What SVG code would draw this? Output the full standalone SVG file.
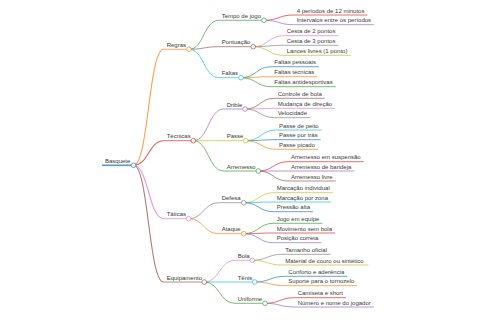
<svg xmlns="http://www.w3.org/2000/svg" width="480" height="320" viewBox="0 0 480 320">
<style>
text{font-family:"Liberation Sans",Arial,sans-serif;font-size:6px;fill:#3a3a3a}
path,line{fill:none;stroke-width:0.9;stroke-opacity:0.75}
circle{fill:#fff;stroke-width:0.8;stroke-opacity:0.85}
.c0{stroke:#1f77b4}.c1{stroke:#ff7f0e}.c2{stroke:#2ca02c}.c3{stroke:#d62728}.c4{stroke:#9467bd}
.c5{stroke:#8c564b}.c6{stroke:#e377c2}.c7{stroke:#7f7f7f}.c8{stroke:#bcbd22}.c9{stroke:#17becf}
.d1{stroke-width:1.1}
</style>
<rect width="480" height="320" fill="#fff"/>
<g id="connectors">
<path class="c1 d1" d="M133.5,165.3C148.6,165.3 148.6,49.3 163.7,49.3"/>
<path class="c3 d1" d="M133.5,165.3C148.6,165.3 148.6,140.7 163.7,140.7"/>
<path class="c6 d1" d="M133.5,165.3C148.6,165.3 148.6,218.7 163.7,218.7"/>
<path class="c5 d1" d="M133.5,165.3C148.6,165.3 148.6,282 163.7,282"/>
<path class="c2" d="M189,49.3C203.9,49.3 203.9,20.3 218.7,20.3"/>
<path class="c5" d="M189,49.3C203.9,49.3 203.9,46.7 218.7,46.7"/>
<path class="c9" d="M189,49.3C203.9,49.3 203.9,77.7 218.7,77.7"/>
<path class="c4" d="M193.3,140.7C208.5,140.7 208.5,109 223.7,109"/>
<path class="c8" d="M193.3,140.7C208.5,140.7 208.5,140.7 223.7,140.7"/>
<path class="c2" d="M193.3,140.7C208.5,140.7 208.5,171 223.7,171"/>
<path class="c7" d="M188.7,218.7C203.7,218.7 203.7,202.7 218.7,202.7"/>
<path class="c1" d="M188.7,218.7C203.7,218.7 203.7,233.7 218.7,233.7"/>
<path class="c6" d="M204.3,282C219.5,282 219.5,260.3 234.7,260.3"/>
<path class="c9" d="M204.3,282C219.5,282 219.5,282 234.7,282"/>
<path class="c2" d="M204.3,282C219.5,282 219.5,303.3 234.7,303.3"/>
<path class="c3" d="M264,20.3C278.9,20.3 278.9,15 293.7,15"/>
<path class="c4" d="M264,20.3C278.9,20.3 278.9,24.7 293.7,24.7"/>
<path class="c6" d="M253.3,46.7C268.5,46.7 268.5,35.7 283.7,35.7"/>
<path class="c7" d="M253.3,46.7C268.5,46.7 268.5,45.3 283.7,45.3"/>
<path class="c8" d="M253.3,46.7C268.5,46.7 268.5,55.3 283.7,55.3"/>
<path class="c0" d="M241,77.7C256.2,77.7 256.2,66.7 271.3,66.7"/>
<path class="c1" d="M241,77.7C256.2,77.7 256.2,76.7 271.3,76.7"/>
<path class="c2" d="M241,77.7C256.2,77.7 256.2,86.7 271.3,86.7"/>
<path class="c5" d="M245,109C259.9,109 259.9,98.3 274.7,98.3"/>
<path class="c6" d="M245,109C259.9,109 259.9,108.3 274.7,108.3"/>
<path class="c7" d="M245,109C259.9,109 259.9,117.7 274.7,117.7"/>
<path class="c9" d="M245.7,140.7C260.9,140.7 260.9,130 276,130"/>
<path class="c0" d="M245.7,140.7C260.9,140.7 260.9,139.7 276,139.7"/>
<path class="c1" d="M245.7,140.7C260.9,140.7 260.9,149.3 276,149.3"/>
<path class="c3" d="M258.3,171C273.2,171 273.2,161.7 288,161.7"/>
<path class="c4" d="M258.3,171C273.2,171 273.2,171 288,171"/>
<path class="c5" d="M258.3,171C273.2,171 273.2,181 288,181"/>
<path class="c8" d="M243.7,202.7C258.7,202.7 258.7,192.7 273.7,192.7"/>
<path class="c9" d="M243.7,202.7C258.7,202.7 258.7,202 273.7,202"/>
<path class="c0" d="M243.7,202.7C258.7,202.7 258.7,211.7 273.7,211.7"/>
<path class="c2" d="M243.7,233.7C258.7,233.7 258.7,223.3 273.7,223.3"/>
<path class="c3" d="M243.7,233.7C258.7,233.7 258.7,233 273.7,233"/>
<path class="c4" d="M243.7,233.7C258.7,233.7 258.7,242.7 273.7,242.7"/>
<path class="c7" d="M252.3,260.3C267.3,260.3 267.3,254.3 282.3,254.3"/>
<path class="c8" d="M252.3,260.3C267.3,260.3 267.3,265 282.3,265"/>
<path class="c0" d="M254.7,282C270,282 270,276.3 285.3,276.3"/>
<path class="c1" d="M254.7,282C270,282 270,285.7 285.3,285.7"/>
<path class="c3" d="M265,303.3C279.9,303.3 279.9,297.7 294.7,297.7"/>
<path class="c4" d="M265,303.3C279.9,303.3 279.9,307 294.7,307"/>
</g>
<g id="n-basquete"><line class="c0" x1="102" y1="165.3" x2="131.2" y2="165.3" style="stroke-width:1.6"/><circle class="c0" cx="133.5" cy="165.3" r="2.3"/><text x="105" y="163">Basquete</text></g>
<g id="n-regras"><line class="c1" x1="163.7" y1="49.3" x2="186.7" y2="49.3"/><circle class="c1" cx="189" cy="49.3" r="2.3"/><text x="166.7" y="47">Regras</text></g>
<g id="n-tempo"><line class="c2" x1="218.7" y1="20.3" x2="261.7" y2="20.3"/><circle class="c2" cx="264" cy="20.3" r="2.3"/><text x="221.7" y="18">Tempo de jogo</text></g>
<g id="n-periodos"><line class="c3" x1="293.7" y1="15" x2="367.4" y2="15"/><text x="296.7" y="12.7">4 períodos de 12 minutos</text></g>
<g id="n-intervalos"><line class="c4" x1="293.7" y1="24.7" x2="374.1" y2="24.7"/><text x="296.7" y="22.4">Intervalos entre os períodos</text></g>
<g id="n-pontuacao"><line class="c5" x1="218.7" y1="46.7" x2="251" y2="46.7"/><circle class="c5" cx="253.3" cy="46.7" r="2.3"/><text x="221.7" y="44.4">Pontuação</text></g>
<g id="n-cesta2"><line class="c6" x1="283.7" y1="35.7" x2="338.4" y2="35.7"/><text x="286.7" y="33.4">Cesta de 2 pontos</text></g>
<g id="n-cesta3"><line class="c7" x1="283.7" y1="45.3" x2="338.4" y2="45.3"/><text x="286.7" y="43">Cesta de 3 pontos</text></g>
<g id="n-lances"><line class="c8" x1="283.7" y1="55.3" x2="350.4" y2="55.3"/><text x="286.7" y="53">Lances livres (1 ponto)</text></g>
<g id="n-faltas"><line class="c9" x1="218.7" y1="77.7" x2="238.7" y2="77.7"/><circle class="c9" cx="241" cy="77.7" r="2.3"/><text x="221.7" y="75.4">Faltas</text></g>
<g id="n-fpessoais"><line class="c0" x1="271.3" y1="66.7" x2="319" y2="66.7"/><text x="274.3" y="64.4">Faltas pessoais</text></g>
<g id="n-ftecnicas"><line class="c1" x1="271.3" y1="76.7" x2="317.3" y2="76.7"/><text x="274.3" y="74.4">Faltas técnicas</text></g>
<g id="n-fantidesportivas"><line class="c2" x1="271.3" y1="86.7" x2="335.7" y2="86.7"/><text x="274.3" y="84.4">Faltas antidesportivas</text></g>
<g id="n-tecnicas"><line class="c3" x1="163.7" y1="140.7" x2="191" y2="140.7"/><circle class="c3" cx="193.3" cy="140.7" r="2.3"/><text x="166.7" y="138.4">Técnicas</text></g>
<g id="n-drible"><line class="c4" x1="223.7" y1="109" x2="242.7" y2="109"/><circle class="c4" cx="245" cy="109" r="2.3"/><text x="226.7" y="106.7">Drible</text></g>
<g id="n-controle"><line class="c5" x1="274.7" y1="98.3" x2="324.7" y2="98.3"/><text x="277.7" y="96">Controle de bola</text></g>
<g id="n-mudanca"><line class="c6" x1="274.7" y1="108.3" x2="335.1" y2="108.3"/><text x="277.7" y="106">Mudança de direção</text></g>
<g id="n-velocidade"><line class="c7" x1="274.7" y1="117.7" x2="310.4" y2="117.7"/><text x="277.7" y="115.4">Velocidade</text></g>
<g id="n-passe"><line class="c8" x1="223.7" y1="140.7" x2="243.4" y2="140.7"/><circle class="c8" cx="245.7" cy="140.7" r="2.3"/><text x="226.7" y="138.4">Passe</text></g>
<g id="n-peito"><line class="c9" x1="276" y1="130" x2="321.7" y2="130"/><text x="279" y="127.7">Passe de peito</text></g>
<g id="n-tras"><line class="c0" x1="276" y1="139.7" x2="320.7" y2="139.7"/><text x="279" y="137.4">Passe por trás</text></g>
<g id="n-picado"><line class="c1" x1="276" y1="149.3" x2="318" y2="149.3"/><text x="279" y="147">Passe picado</text></g>
<g id="n-arremesso"><line class="c2" x1="223.7" y1="171" x2="256" y2="171"/><circle class="c2" cx="258.3" cy="171" r="2.3"/><text x="226.7" y="168.7">Arremesso</text></g>
<g id="n-suspensao"><line class="c3" x1="288" y1="161.7" x2="363.7" y2="161.7"/><text x="291" y="159.4">Arremesso em suspensão</text></g>
<g id="n-bandeja"><line class="c4" x1="288" y1="171" x2="354.4" y2="171"/><text x="291" y="168.7">Arremesso de bandeja</text></g>
<g id="n-livre"><line class="c5" x1="288" y1="181" x2="335.7" y2="181"/><text x="291" y="178.7">Arremesso livre</text></g>
<g id="n-taticas"><line class="c6" x1="163.7" y1="218.7" x2="186.4" y2="218.7"/><circle class="c6" cx="188.7" cy="218.7" r="2.3"/><text x="166.7" y="216.4">Táticas</text></g>
<g id="n-defesa"><line class="c7" x1="218.7" y1="202.7" x2="241.4" y2="202.7"/><circle class="c7" cx="243.7" cy="202.7" r="2.3"/><text x="221.7" y="200.4">Defesa</text></g>
<g id="n-individual"><line class="c8" x1="273.7" y1="192.7" x2="332.7" y2="192.7"/><text x="276.7" y="190.4">Marcação individual</text></g>
<g id="n-zona"><line class="c9" x1="273.7" y1="202" x2="331.1" y2="202"/><text x="276.7" y="199.7">Marcação por zona</text></g>
<g id="n-pressao"><line class="c0" x1="273.7" y1="211.7" x2="313" y2="211.7"/><text x="276.7" y="209.4">Pressão alta</text></g>
<g id="n-ataque"><line class="c1" x1="218.7" y1="233.7" x2="241.4" y2="233.7"/><circle class="c1" cx="243.7" cy="233.7" r="2.3"/><text x="221.7" y="231.4">Ataque</text></g>
<g id="n-jogo"><line class="c2" x1="273.7" y1="223.3" x2="322.4" y2="223.3"/><text x="276.7" y="221">Jogo em equipe</text></g>
<g id="n-movimento"><line class="c3" x1="273.7" y1="233" x2="335.1" y2="233"/><text x="276.7" y="230.7">Movimento sem bola</text></g>
<g id="n-posicao"><line class="c4" x1="273.7" y1="242.7" x2="321.4" y2="242.7"/><text x="276.7" y="240.4">Posição correta</text></g>
<g id="n-equipamento"><line class="c5" x1="163.7" y1="282" x2="202" y2="282"/><circle class="c5" cx="204.3" cy="282" r="2.3"/><text x="166.7" y="279.7">Equipamento</text></g>
<g id="n-bola"><line class="c6" x1="234.7" y1="260.3" x2="250" y2="260.3"/><circle class="c6" cx="252.3" cy="260.3" r="2.3"/><text x="237.7" y="258">Bola</text></g>
<g id="n-tamanho"><line class="c7" x1="282.3" y1="254.3" x2="330.6" y2="254.3"/><text x="285.3" y="252">Tamanho oficial</text></g>
<g id="n-material"><line class="c8" x1="282.3" y1="265" x2="368.3" y2="265"/><text x="285.3" y="262.7">Material de couro ou sintético</text></g>
<g id="n-tenis"><line class="c9" x1="234.7" y1="282" x2="252.4" y2="282"/><circle class="c9" cx="254.7" cy="282" r="2.3"/><text x="237.7" y="279.7">Tênis</text></g>
<g id="n-conforto"><line class="c0" x1="285.3" y1="276.3" x2="347.3" y2="276.3"/><text x="288.3" y="274">Conforto e aderência</text></g>
<g id="n-suporte"><line class="c1" x1="285.3" y1="285.7" x2="357.3" y2="285.7"/><text x="288.3" y="283.4">Suporte para o tornozelo</text></g>
<g id="n-uniforme"><line class="c2" x1="234.7" y1="303.3" x2="262.7" y2="303.3"/><circle class="c2" cx="265" cy="303.3" r="2.3"/><text x="237.7" y="301">Uniforme</text></g>
<g id="n-camiseta"><line class="c3" x1="294.7" y1="297.7" x2="346" y2="297.7"/><text x="297.7" y="295.4">Camiseta e short</text></g>
<g id="n-numero"><line class="c4" x1="294.7" y1="307" x2="373.7" y2="307"/><text x="297.7" y="304.7">Número e nome do jogador</text></g>
</svg>
